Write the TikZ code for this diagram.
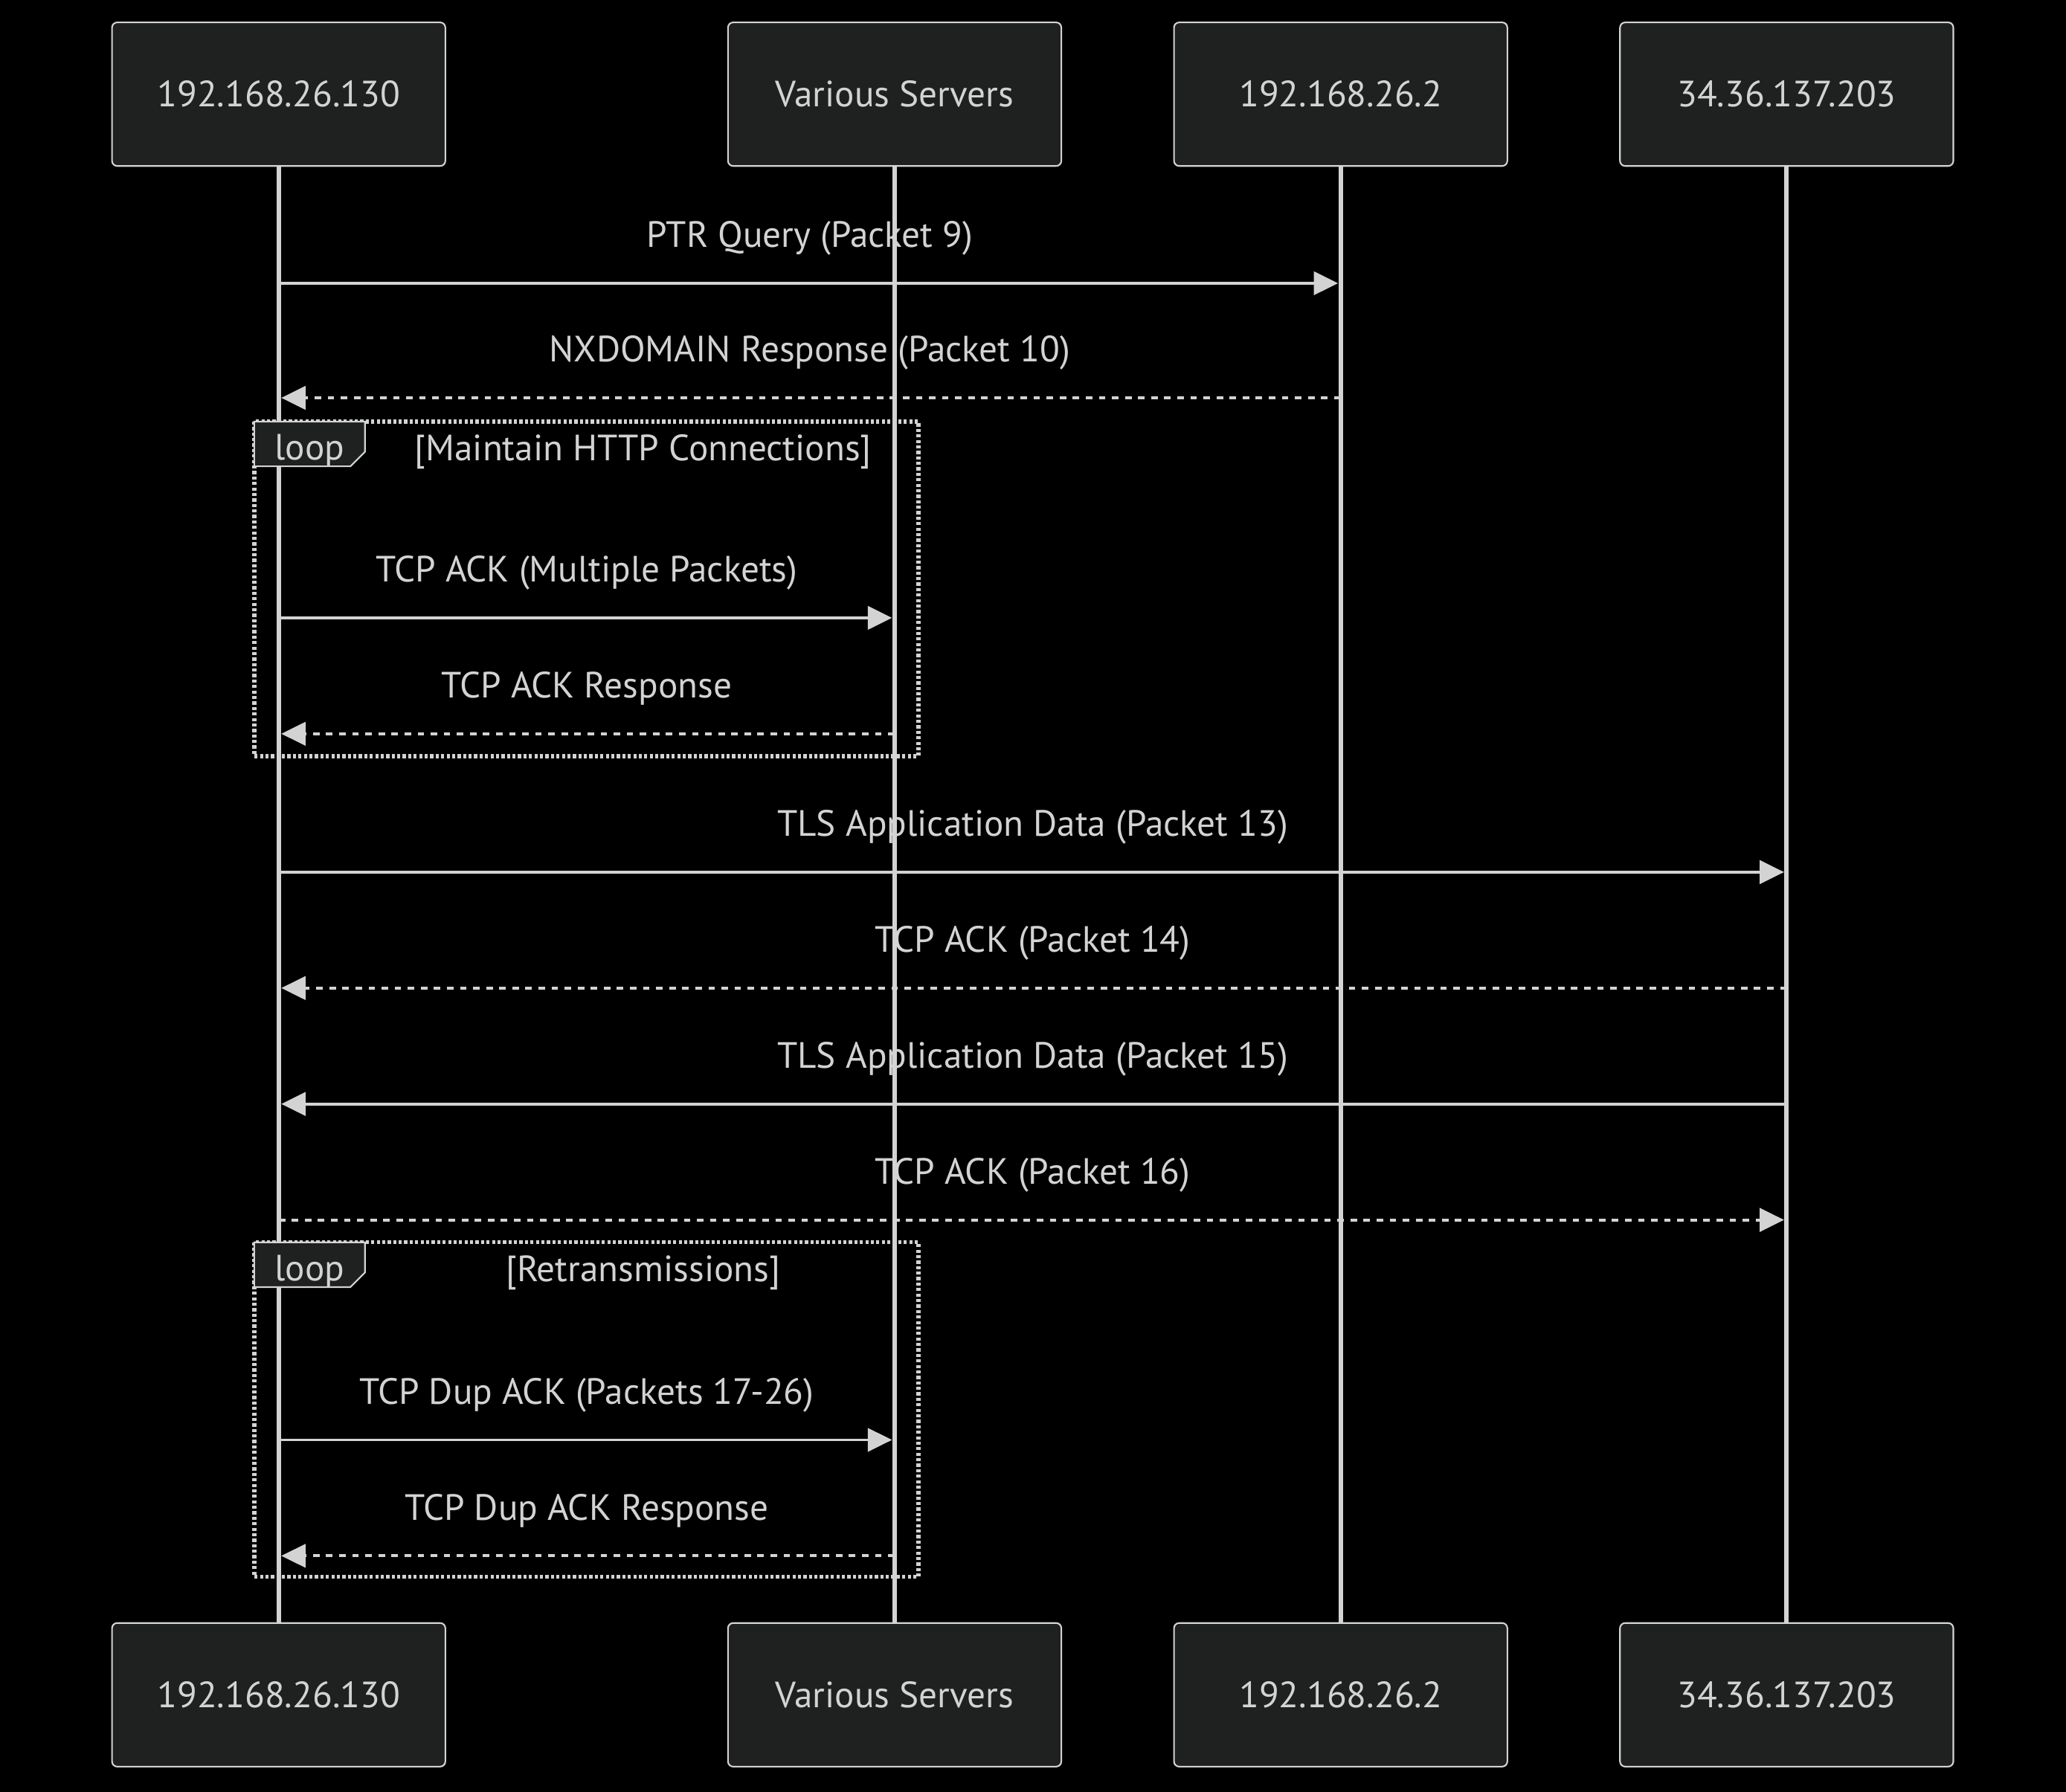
\documentclass[tikz,border=0pt]{standalone}
\usepackage{fontspec}
\setmainfont{PT Sans}
\usetikzlibrary{arrows.meta,positioning}
\definecolor{actorfill}{HTML}{1F2020}
\definecolor{linegray}{HTML}{D3D3D3}
\begin{document}
\begin{tikzpicture}[x=0.017717cm,y=-0.017717cm,
	actor/.style={draw=linegray,fill=actorfill,rounded corners=2pt,line width=0.6pt,
		minimum width=4.482cm,minimum height=1.931cm,text=linegray,font=\fontsize{14}{16}\selectfont},
	life/.style={linegray,line width=1.7pt},
	msg/.style={linegray,line width=1.1pt,-{Triangle[length=9.3pt,width=8.9pt]},shorten >=1pt},
	reply/.style={msg,dash pattern=on 2.5pt off 2.5pt},
	lbl/.style={text=linegray,font=\fontsize{14}{16}\selectfont},
	loopframe/.style={linegray,line width=1.5pt,dash pattern=on 1.2pt off 0.9pt},
	looptab/.style={draw=linegray,fill=actorfill,line width=0.6pt}]
	\fill[black] (0,0) rectangle (1568,1360);
	\useasboundingbox (0,0) rectangle (1568,1360);
	% participants
	\node[actor] (hostT) at (211.5,71.5) {192.168.26.130};
	\node[actor] (srvT) at (679,71.5) {Various Servers};
	\node[actor] (dnsT) at (1017.5,71.5) {192.168.26.2};
	\node[actor] (extT) at (1356,71.5) {34.36.137.203};
	\node[actor] (hostB) at (211.5,1286.5) {192.168.26.130};
	\node[actor] (srvB) at (679,1286.5) {Various Servers};
	\node[actor] (dnsB) at (1017.5,1286.5) {192.168.26.2};
	\node[actor] (extB) at (1356,1286.5) {34.36.137.203};
	\draw[life] (hostT.south) -- (hostB.north);
	\draw[life] (srvT.south) -- (srvB.north);
	\draw[life] (dnsT.south) -- (dnsB.north);
	\draw[life] (extT.south) -- (extB.north);
	% loop frames
	\draw[loopframe] (193,320) rectangle (697,574);
	\draw[looptab] (193,320) -- (277,320) -- (277,343) -- (266,354) -- (193,354) -- cycle;
	\node[lbl] (loopA) at (235,342) {loop};
	\node[lbl] (condA) at (488,343) {[Maintain HTTP Connections]};
	\draw[loopframe] (193,943) rectangle (697,1197);
	\draw[looptab] (193,943) -- (277,943) -- (277,966) -- (266,977) -- (193,977) -- cycle;
	\node[lbl] (loopB) at (235,965) {loop};
	\node[lbl] (condB) at (488,966) {[Retransmissions]};
	% messages
	\draw[msg] (hostT |- 0,215) -- node[lbl,yshift=17.2pt] (m1) {PTR Query (Packet 9)} (dnsT |- 0,215);
	\draw[reply] (dnsT |- 0,302) -- node[lbl,yshift=17.2pt] (m2) {NXDOMAIN Response (Packet 10)} (hostT |- 0,302);
	\draw[msg] (hostT |- 0,469) -- node[lbl,yshift=17.2pt] (m3) {TCP ACK (Multiple Packets)} (srvT |- 0,469);
	\draw[reply] (srvT |- 0,557) -- node[lbl,yshift=17.2pt] (m4) {TCP ACK Response} (hostT |- 0,557);
	\draw[msg] (hostT |- 0,662) -- node[lbl,yshift=17.2pt] (m5) {TLS Application Data (Packet 13)} (extT |- 0,662);
	\draw[reply] (extT |- 0,750) -- node[lbl,yshift=17.2pt] (m6) {TCP ACK (Packet 14)} (hostT |- 0,750);
	\draw[msg] (extT |- 0,838) -- node[lbl,yshift=17.2pt] (m7) {TLS Application Data (Packet 15)} (hostT |- 0,838);
	\draw[reply] (hostT |- 0,926) -- node[lbl,yshift=17.2pt] (m8) {TCP ACK (Packet 16)} (extT |- 0,926);
	\draw[msg] (hostT |- 0,1093) -- node[lbl,yshift=17.2pt] (m9) {TCP Dup ACK (Packets 17-26)} (srvT |- 0,1093);
	\draw[reply] (srvT |- 0,1181) -- node[lbl,yshift=17.2pt] (m10) {TCP Dup ACK Response} (hostT |- 0,1181);
\end{tikzpicture}
\end{document}
